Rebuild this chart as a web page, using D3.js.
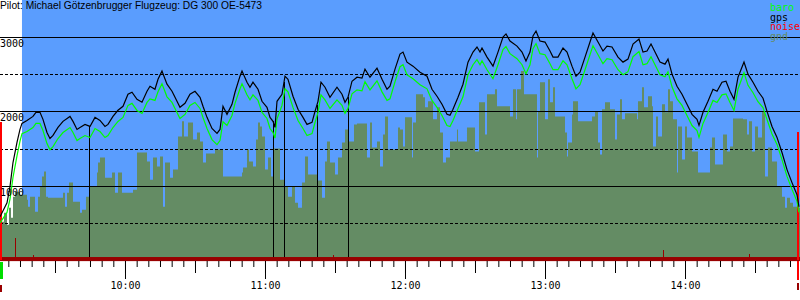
<!DOCTYPE html>
<html>
<head>
<meta charset="utf-8">
<script src="https://cdn.jsdelivr.net/npm/d3@7"></script>
<style>
  body { margin: 0; background: #fff; }
  svg { display: block; }
  .mono { font-family: "DejaVu Sans Mono", "Liberation Mono", monospace; font-size: 10px; }
</style>
</head>
<body>
<svg id="chart" width="800" height="300"></svg>
<script>
const title = 'Pilot: Michael Götzenbrugger Flugzeug: DG 300 OE-5473';
const legendNames = ['baro', 'gps', 'noise', 'gnd'];
const legendColors = ['#00ff00', '#000000', '#ff0000', '#648c64'];

const timeStart = '09:06:26';
const timeEnd = '14:49:17';
const releaseTime = '09:15:51';

const altTicks = [500, 1000, 1500, 2000, 2500, 3000];
const altLabels = [1000, 2000, 3000];

const fixTimes = [
  '09:06:26','09:09:26','09:10:43','09:12:00','09:13:43','09:15:00','09:15:51','09:18:00','09:20:34','09:21:51',
  '09:23:34','09:24:51','09:26:34','09:27:51','09:29:09','09:31:17','09:33:26','09:36:26','09:37:43','09:39:26',
  '09:40:43','09:42:51','09:45:00','09:47:09','09:49:17','09:51:26','09:52:43','09:54:51','09:57:00','09:59:09',
  '10:01:17','10:03:00','10:05:09','10:07:17','10:09:26','10:10:43','10:12:51','10:14:09','10:15:51','10:18:00',
  '10:20:09','10:21:26','10:23:34','10:25:43','10:27:51','10:30:00','10:32:09','10:33:26','10:35:09','10:37:17',
  '10:39:26','10:40:43','10:42:00','10:43:43','10:45:51','10:47:09','10:49:17','10:50:09','10:52:17','10:53:34',
  '10:54:51','10:57:00','10:58:43',
  '11:00:51','11:02:09','11:03:26','11:04:17','11:05:09','11:07:17','11:08:34','11:09:51','11:12:00','11:14:09',
  '11:16:17','11:18:00','11:20:09','11:21:26','11:22:43','11:24:00','11:25:43','11:27:51','11:30:51','11:33:00',
  '11:34:17','11:35:34','11:37:17','11:39:26','11:41:34','11:42:51','11:45:00','11:48:00','11:50:09','11:52:17',
  '11:53:34','11:55:43','11:57:51','11:59:09',
  '12:00:51','12:03:26','12:06:26','12:09:26','12:11:34','12:13:43','12:15:51','12:18:00','12:19:17','12:20:34',
  '12:22:43','12:24:51','12:27:00','12:29:09','12:30:51','12:32:09','12:33:00','12:35:09','12:37:43','12:39:51',
  '12:42:00','12:43:17','12:45:00','12:48:00','12:50:09','12:51:51','12:53:34','12:54:51','12:56:09','12:57:51',
  '13:00:00','13:02:09','13:03:26','13:05:34','13:07:43','13:09:26','13:11:34','13:13:17','13:15:00','13:17:09',
  '13:19:17','13:20:34','13:22:43','13:24:51','13:26:34','13:28:43','13:31:17','13:33:26','13:35:34','13:37:43',
  '13:40:17','13:42:00','13:43:43','13:45:26','13:47:09','13:49:17','13:51:26','13:52:43','13:54:26','13:56:34',
  '13:58:43',
  '14:00:51','14:03:00','14:05:09','14:06:00','14:07:43','14:09:51','14:12:00','14:13:43','14:15:51','14:17:34',
  '14:19:17','14:21:00','14:22:43','14:25:17','14:27:00','14:29:09','14:31:17','14:33:26','14:35:09','14:37:17',
  '14:39:26','14:41:34','14:43:43','14:45:51','14:48:00','14:48:51'
];

const gpsAlt = [
  581, 770, 987, 1311, 1581, 1757, 1838, 1878, 1932, 1987,
  1987, 1892, 1716, 1635, 1676, 1784, 1865, 1932, 1865, 1757,
  1784, 1824, 1797, 1919, 1878, 1797, 1824, 1932, 2014, 2068,
  2230, 2257, 2162, 2122, 2270, 2338, 2297, 2432, 2541, 2365,
  2270, 2189, 2054, 2108, 2230, 2270, 2189, 2068, 1919, 1770,
  1703, 1757, 2068, 1959, 2095, 2257, 2473, 2541, 2392, 2324,
  2392, 2297, 2135,
  2054, 1919, 1865, 1784, 2135, 2230, 2473, 2432, 2203, 2027,
  1919, 1824, 1851, 2000, 2135, 2392, 2324, 2189, 2324, 2230,
  2122, 2189, 2405, 2459, 2446, 2568, 2459, 2581, 2432, 2297,
  2338, 2568, 2770, 2797,
  2662, 2608, 2527, 2473, 2297, 2203, 2095, 1959, 1946, 2027,
  2189, 2365, 2662, 2797, 2865, 2797, 2851, 2730, 2608, 2797,
  3000, 3041, 2946, 2878, 2797, 2676, 2797, 3014, 3081, 2946,
  2932, 2811, 2730, 2730, 2851, 2797, 2608, 2473, 2527, 2730,
  2932, 3054, 2932, 2811, 2878, 2865, 2730, 2662, 2703, 2905,
  2973, 2797, 2811, 2905, 2797, 2662, 2635, 2703, 2500, 2338,
  2230,
  2095, 1959, 1892, 1811, 1987, 2135, 2297, 2270, 2392, 2405,
  2270, 2162, 2459, 2662, 2500, 2392, 2270, 2176, 2000, 1797,
  1649, 1446, 1216, 1041, 878, 716
];

const baroAlt = [
  500, 640, 820, 1110, 1400, 1600, 1700, 1728, 1782, 1837,
  1837, 1742, 1566, 1485, 1526, 1634, 1715, 1782, 1715, 1607,
  1634, 1674, 1647, 1769, 1728, 1647, 1674, 1782, 1864, 1918,
  2080, 2107, 2012, 1972, 2120, 2168, 2147, 2262, 2371, 2195,
  2120, 2039, 1904, 1958, 2080, 2120, 2039, 1918, 1769, 1620,
  1553, 1607, 1860, 1809, 1945, 2107, 2303, 2371, 2222, 2154,
  2222, 2147, 1985,
  1904, 1769, 1715, 1640, 1900, 2080, 2303, 2262, 2053, 1877,
  1769, 1674, 1701, 1850, 1985, 2222, 2154, 2039, 2154, 2080,
  1972, 2039, 2235, 2289, 2276, 2398, 2289, 2411, 2262, 2147,
  2168, 2398, 2600, 2627,
  2492, 2438, 2357, 2303, 2147, 2053, 1945, 1809, 1796, 1877,
  2039, 2195, 2492, 2627, 2695, 2627, 2681, 2560, 2438, 2627,
  2830, 2871, 2776, 2708, 2627, 2506, 2627, 2844, 2911, 2776,
  2762, 2641, 2560, 2560, 2681, 2627, 2438, 2303, 2357, 2560,
  2762, 2884, 2762, 2641, 2708, 2695, 2560, 2492, 2533, 2735,
  2803, 2627, 2641, 2735, 2627, 2492, 2465, 2533, 2330, 2168,
  2080,
  1945, 1809, 1742, 1650, 1837, 1985, 2147, 2120, 2222, 2235,
  2120, 2012, 2300, 2520, 2350, 2250, 2130, 2050, 1890, 1695,
  1555, 1350, 1125, 950, 790, 640
];

const gndTimes = [
  '09:06:26','09:08:09','09:09:26','09:10:17','09:11:09','09:12:00','09:12:51','09:15:00','09:18:00','09:18:26',
  '09:19:17','09:21:26','09:22:43','09:23:34','09:24:26','09:25:17','09:26:09','09:27:00','09:33:26','09:34:17',
  '09:35:09','09:36:00','09:37:43','09:40:43','09:41:34','09:43:17','09:44:34','09:48:00','09:48:26','09:49:17',
  '09:51:26','09:54:26','09:55:43','09:57:00','09:58:43','10:03:26','10:05:09','10:09:26','10:10:43','10:12:00',
  '10:13:43','10:15:00','10:16:17','10:17:09','10:19:17','10:20:34','10:22:43','10:24:26','10:25:17','10:27:00',
  '10:29:09','10:30:51','10:32:09','10:33:26','10:34:43','10:38:34','10:42:00','10:50:09','10:50:34','10:52:17',
  '10:53:09','10:54:51','10:56:09','10:57:00','10:57:51','10:58:43','11:00:00','11:01:17','11:02:34','11:03:26',
  '11:06:26','11:08:34','11:09:51','11:11:34','11:12:51','11:14:09','11:15:51','11:17:09','11:18:26','11:22:17',
  '11:24:26','11:25:43','11:26:34','11:27:51','11:30:00','11:31:17','11:33:00','11:34:17','11:35:34','11:38:09',
  '11:39:26','11:43:43','11:45:00','11:45:51','11:48:00','11:49:17','11:50:34','11:51:26','11:52:43','11:57:00',
  '11:57:51','11:59:09','12:00:00','12:03:00','12:03:26','12:04:43','12:07:43','12:08:34','12:09:51','12:12:00',
  '12:13:43','12:15:00','12:16:17','12:17:34','12:19:17','12:22:17','12:22:43','12:26:34','12:30:00','12:31:43',
  '12:34:17','12:35:09','12:38:34','12:39:26','12:45:00','12:46:17','12:47:34','12:48:00','12:49:43','12:51:00',
  '12:56:34','12:57:00','12:57:51','13:00:00','13:01:17','13:02:09','13:03:26','13:04:17','13:08:34','13:09:26',
  '13:09:51','13:11:34','13:12:00','13:14:09','13:20:09','13:21:26','13:22:43','13:23:34','13:24:26','13:25:43',
  '13:27:51','13:30:00','13:30:51','13:32:09','13:33:00','13:34:17','13:39:26','13:39:51','13:41:34','13:42:26',
  '13:44:09','13:45:51','13:46:17','13:47:34','13:48:26','13:50:09','13:51:26','13:52:43','13:53:34','13:54:51',
  '13:56:34','13:57:00','13:58:43','14:00:00','14:00:51','14:03:00','14:05:34','14:10:43','14:11:34','14:12:51',
  '14:16:17','14:18:00','14:19:17','14:20:34','14:24:51','14:26:34','14:27:26','14:28:43','14:30:00','14:31:17',
  '14:33:00','14:34:17','14:35:34','14:37:17','14:39:26','14:41:34','14:42:51','14:43:43','14:45:00','14:46:17',
  '14:48:26','14:49:17'
];

const gndAlt = [
  515, 635, 473, 703, 568, 851, 919, 878, 811, 716,
  851, 649, 851, 987, 1122, 1189, 851, 838, 905, 716,
  905, 1041, 784, 635, 676, 851, 987, 1176, 1311, 1378,
  1108, 1176, 905, 1176, 905, 946, 1446, 1324, 1081, 1378,
  1257, 1392, 716, 1311, 1108, 1216, 1662, 1865, 1662, 1851,
  1622, 1716, 1595, 1311, 1432, 1486, 1122, 1176, 1243, 1486,
  1324, 1257, 1622, 1851, 1797, 1662, 1216, 1378, 1122, 1500,
  1081, 987, 851, 987, 770, 703, 1041, 1392, 1149, 1068,
  838, 1324, 1595, 1311, 1149, 1378, 1581, 1757, 1595, 1824,
  1838, 1378, 1851, 1514, 1595, 1257, 1689, 1932, 1486, 1784,
  1757, 1527, 1919, 1378, 1851, 2230, 2189, 2054, 2135, 1892,
  2054, 1716, 1311, 1378, 1595, 1757, 1595, 1784, 1459, 2122,
  1689, 2230, 2297, 2068, 1932, 2297, 1892, 2297, 2541, 2230,
  1378, 2000, 2392, 1892, 2432, 2122, 2324, 1932, 1716, 1392,
  1581, 1959, 2135, 1865, 1932, 2000, 1581, 1419, 2027, 2122,
  2027, 1622, 1959, 2162, 1892, 1973, 1892, 2135, 2324, 2054,
  2203, 2068, 1527, 1932, 1662, 2095, 1987, 2297, 2135, 1892,
  1176, 1797, 1351, 1797, 1649, 1459, 1176, 1514, 1649, 1284,
  1689, 1459, 1527, 1905, 1892, 1689, 1865, 1459, 1797, 1649,
  2000, 1122, 1514, 1324, 987, 851, 703, 838, 770, 716,
  703, 703
];

const noiseTimes = ['09:06:26', '09:12:51', '09:20:34', '11:29:09', '13:50:34', '14:27:26', '14:48:00'];
const noiseValues = [1850, 300, 70, 70, 135, 80, 1720];

const markerTimes = ['09:44:34', '11:03:26', '11:08:09', '11:22:17', '11:35:34'];

// ---------------------------------------------------------------
const parse = d3.timeParse('%H:%M:%S');
const svg = d3.select('#chart');
const W = 800;

const x = d3.scaleTime().domain([parse(timeStart), parse(timeEnd)]).range([0, W]);
const y = d3.scaleLinear().domain([0, 3000]).range([260, 37]);

const fixes = fixTimes.map((t, i) => ({ t: parse(t), gps: gpsAlt[i], baro: baroAlt[i] }));
const gnd = gndTimes.map((t, i) => ({ t: parse(t), v: gndAlt[i] }));

// sky after release
svg.append('rect')
  .attr('x', x(parse(releaseTime))).attr('y', 0)
  .attr('width', W - x(parse(releaseTime))).attr('height', y(0))
  .attr('fill', '#5a9dfe');

// ground elevation
svg.append('path')
  .datum(gnd)
  .attr('fill', '#648c64')
  .attr('d', d3.area().curve(d3.curveStepAfter)
    .x(d => x(d.t)).y0(y(0)).y1(d => y(d.v)));

// horizontal grid
svg.append('g')
  .selectAll('line').data(altTicks).join('line')
  .attr('x1', 0).attr('x2', W)
  .attr('y1', d => Math.round(y(d)) + 0.5).attr('y2', d => Math.round(y(d)) + 0.5)
  .attr('stroke', '#000')
  .attr('stroke-dasharray', d => d % 1000 ? '3,2' : null)
  .attr('shape-rendering', 'crispEdges');

// markers from the gps trace down to the ground line
const bis = d3.bisector(d => d.t).left;
const gpsAt = t => {
  const i = Math.max(1, bis(fixes, t));
  const a = fixes[i - 1], b = fixes[i];
  return a.gps + (b.gps - a.gps) * (t - a.t) / (b.t - a.t);
};
svg.append('g')
  .selectAll('line').data(markerTimes.map(parse)).join('line')
  .attr('x1', d => Math.round(x(d)) + 0.5).attr('x2', d => Math.round(x(d)) + 0.5)
  .attr('y1', d => y(gpsAt(d))).attr('y2', y(0))
  .attr('stroke', '#000').attr('shape-rendering', 'crispEdges');

// noise
svg.append('rect')
  .attr('x', 0).attr('width', W)
  .attr('y', y(40)).attr('height', y(-15) - y(40))
  .attr('fill', '#990000');
svg.append('g')
  .selectAll('line').data(noiseTimes.map((t, i) => ({ t: parse(t), v: noiseValues[i] }))).join('line')
  .attr('x1', d => Math.round(x(d.t)) + 0.5).attr('x2', d => Math.round(x(d.t)) + 0.5)
  .attr('y1', d => y(d.v)).attr('y2', y(0))
  .attr('stroke', d => d.v > 1000 ? '#ff0000' : '#990000')
  .attr('stroke-width', d => d.v > 1000 ? 2 : 1)
  .attr('shape-rendering', 'crispEdges');

// baro and gps traces
svg.append('path').datum(fixes)
  .attr('fill', 'none').attr('stroke', '#00ff00').attr('stroke-width', 1.2)
  .attr('d', d3.line().x(d => x(d.t)).y(d => y(d.baro)));
svg.append('path').datum(fixes)
  .attr('fill', 'none').attr('stroke', '#000').attr('stroke-width', 1.2)
  .attr('d', d3.line().x(d => x(d.t)).y(d => y(d.gps)));

// time axis: 5 min, 30 min, hours
const axisY = y(0) + 1;
const tickSets = [
  { every: d3.timeMinute.every(5), size: 6 },
  { every: d3.timeMinute.every(30), size: 12 },
  { every: d3.timeHour.every(1), size: 18 }
];
tickSets.forEach((s, k) => {
  const g = svg.append('g')
    .attr('transform', `translate(0,${axisY})`)
    .attr('class', 'mono')
    .call(d3.axisBottom(x).ticks(s.every).tickSize(s.size)
      .tickFormat(k === 2 ? d3.timeFormat('%H:%M') : ''));
  g.select('.domain').remove();
  g.selectAll('text').attr('font-family', null).attr('font-size', null).attr('fill', '#000');
  g.selectAll('line').attr('stroke', '#000');
});

// phase strip under the axis
const tStart = x(parse(timeStart)), tEnd = x(parse(noiseTimes[noiseTimes.length - 1]));
svg.append('rect').attr('x', tStart).attr('y', 262).attr('width', 3).attr('height', 17).attr('fill', '#00dd00');
svg.append('rect').attr('x', tStart).attr('y', 285).attr('width', 2).attr('height', 7).attr('fill', '#990000');
svg.append('rect').attr('x', tEnd).attr('y', 261).attr('width', 2).attr('height', 19).attr('fill', '#ff0000');
svg.append('rect').attr('x', tEnd).attr('y', 283).attr('width', 2).attr('height', 7).attr('fill', '#990000');

// altitude labels
svg.append('g').attr('class', 'mono')
  .selectAll('text').data(altLabels).join('text')
  .attr('x', 0).attr('y', d => y(d) + 10)
  .text(d => d);

// title
svg.append('text')
  .attr('x', 0).attr('y', 9)
  .attr('font-family', '"Liberation Sans", Arial, sans-serif')
  .attr('font-size', 11)
  .attr('textLength', 262).attr('lengthAdjust', 'spacingAndGlyphs')
  .text(title);

// legend
svg.append('g').attr('class', 'mono')
  .selectAll('text').data(legendNames).join('text')
  .attr('x', 770).attr('y', (d, i) => 11 + i * 9.5)
  .attr('fill', (d, i) => legendColors[i])
  .text(d => d);
</script>
</body>
</html>
